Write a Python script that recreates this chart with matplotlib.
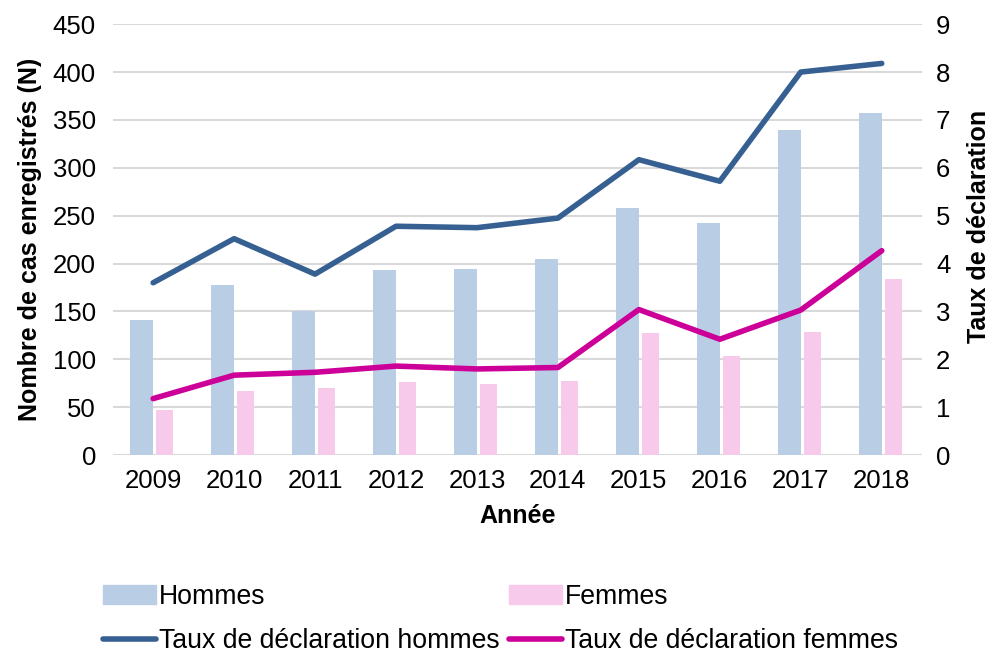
import numpy as np
import matplotlib.pyplot as plt
from matplotlib.patches import Patch
from matplotlib.lines import Line2D

plt.rcParams['font.family'] = ['Liberation Sans', 'DejaVu Sans']

# donnees
annees = ["2009", "2010", "2011", "2012", "2013", "2014", "2015", "2016", "2017", "2018"]
hommes = [141, 178, 151, 193, 194, 205, 258, 242, 340, 357]
femmes = [47, 67, 70, 76, 74, 77, 128, 103, 129, 184]
taux_hommes = [3.60, 4.52, 3.78, 4.78, 4.75, 4.95, 6.17, 5.72, 8.00, 8.18]
taux_femmes = [1.18, 1.67, 1.73, 1.86, 1.80, 1.83, 3.04, 2.42, 3.03, 4.27]

c_h_bar = "#B9CDE5"
c_f_bar = "#F7CAEC"
c_h_line = "#376092"
c_f_line = "#CC0099"
fs = 18.5

fig = plt.figure(figsize=(9.97, 6.53), dpi=100)
ax = fig.add_axes([0.113, 0.303, 0.812, 0.66])
ax2 = ax.twinx()

x = np.arange(len(annees))
ax.bar(x, hommes, width=-0.28, align="edge", color=c_h_bar, zorder=2)
ax.bar(x + 0.04, femmes, width=0.21, align="edge", color=c_f_bar, zorder=2)

ax2.plot(x, taux_hommes, color=c_h_line, lw=4, solid_capstyle="round", zorder=3)
ax2.plot(x, taux_femmes, color=c_f_line, lw=4, solid_capstyle="round", zorder=3)

ax.set_xlim(-0.5, len(annees) - 0.5)
ax.set_ylim(0, 450)
ax.set_yticks(np.arange(0, 451, 50))
ax2.set_ylim(0, 9)
ax2.set_yticks(np.arange(0, 10, 1))
ax.set_xticks(x)
ax.set_xticklabels(annees)

ax.yaxis.grid(True, color="#D9D9D9", lw=1.5, zorder=0)
ax.set_axisbelow(True)
for a in (ax, ax2):
    for s in a.spines.values():
        s.set_visible(False)
    a.tick_params(length=0, labelsize=fs, colors="black")
ax.tick_params(axis="y", pad=12)
ax.tick_params(axis="x", pad=10)
ax2.tick_params(axis="y", pad=10)

ax.set_ylabel("Nombre de cas enregistrés (N)", fontsize=18, fontweight="bold", labelpad=8)
ax2.set_ylabel("Taux de déclaration", fontsize=18, fontweight="bold", labelpad=12)
ax2.yaxis.label.set_y(0.53)
ax.set_xlabel("Année", fontsize=18, fontweight="bold", labelpad=8)

handles = [
    Patch(color=c_h_bar, label="Hommes"),
    Line2D([], [], color=c_h_line, lw=4, solid_capstyle="round", label="Taux de déclaration hommes"),
    Patch(color=c_f_bar, label="Femmes"),
    Line2D([], [], color=c_f_line, lw=4, solid_capstyle="round", label="Taux de déclaration femmes"),
]
fig.legend(handles=handles, ncol=2, loc="upper left", bbox_to_anchor=(0.103, 0.106),
           bbox_transform=fig.transFigure, frameon=False, fontsize=19.2,
           handlelength=2.0, handletextpad=0.1, columnspacing=0.35,
           labelspacing=0.7, borderaxespad=0, borderpad=0)

fig.savefig("out.png", dpi=100)
